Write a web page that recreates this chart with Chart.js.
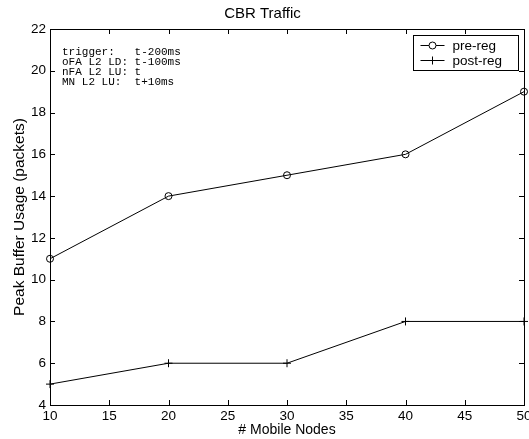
<!DOCTYPE html>
<html>
<head>
<meta charset="utf-8">
<script src="https://cdn.jsdelivr.net/npm/chart.js@4.4.1/dist/chart.umd.min.js"></script>
<style>
  html, body { margin: 0; padding: 0; background: #fff; }
</style>
</head>
<body>
<canvas id="cbr-chart" width="529" height="439"></canvas>
<script>
// data
const nodes = [10, 20, 30, 40, 50];
const preReg = [11, 14, 15, 16, 19];
const postReg = [5, 6, 6, 8, 8];
const seriesNames = ["pre-reg", "post-reg"];
const noteLines = [
  "trigger:   t-200ms",
  "oFA L2 LD: t-100ms",
  "nFA L2 LU: t",
  "MN L2 LU:  t+10ms"
];

const sansFont = "'Liberation Sans', Arial, Helvetica, sans-serif";
const monoFont = "'Liberation Mono', 'DejaVu Sans Mono', monospace";

function toPoints(xs, ys) {
  return xs.map(function(x, i) { return { x: x, y: ys[i] }; });
}

// matlab style frame: full box with ticks pointing inwards
const matlabFrame = {
  id: "matlabFrame",
  afterDraw: function(chart) {
    const ctx = chart.ctx;
    const area = chart.chartArea;
    const xs = chart.scales.x;
    const ys = chart.scales.y;
    const tick = 5;
    ctx.save();
    ctx.strokeStyle = "#000";
    ctx.lineWidth = 1;
    ctx.beginPath();
    xs.ticks.forEach(function(t) {
      const px = Math.round(xs.getPixelForValue(t.value)) + 0.5;
      ctx.moveTo(px, area.bottom);
      ctx.lineTo(px, area.bottom - tick);
      ctx.moveTo(px, area.top);
      ctx.lineTo(px, area.top + tick);
    });
    ys.ticks.forEach(function(t) {
      const py = Math.round(ys.getPixelForValue(t.value)) + 0.5;
      ctx.moveTo(area.left, py);
      ctx.lineTo(area.left + tick, py);
      ctx.moveTo(area.right, py);
      ctx.lineTo(area.right - tick, py);
    });
    ctx.stroke();
    ctx.strokeRect(Math.round(area.left) + 0.5, Math.round(area.top) + 0.5,
      Math.round(area.right - area.left), Math.round(area.bottom - area.top));

    // note text in the upper left corner
    ctx.fillStyle = "#000";
    ctx.font = "11px " + monoFont;
    ctx.textAlign = "left";
    ctx.textBaseline = "middle";
    noteLines.forEach(function(line, i) {
      ctx.fillText(line, area.left + 12, area.top + 23 + i * 10);
    });

    // legend box, top right
    const lx = 413.5, ly = 35.5, lw = 105, lh = 35;
    ctx.fillStyle = "#fff";
    ctx.fillRect(lx, ly, lw, lh);
    ctx.strokeRect(lx, ly, lw, lh);
    ctx.font = "13.5px " + sansFont;
    chart.data.datasets.forEach(function(ds, i) {
      const ry = ly + 10 + i * 15;
      ctx.beginPath();
      ctx.moveTo(lx + 7, ry);
      ctx.lineTo(lx + 31, ry);
      ctx.stroke();
      Chart.helpers.drawPoint(ctx, {
        pointStyle: ds.pointStyle,
        radius: ds.pointRadius,
        borderWidth: 1
      }, lx + 19, ry);
      ctx.fillStyle = "#000";
      ctx.fillText(ds.label, lx + 39, ry + 0.5);
    });
    ctx.restore();
  }
};

const ctx = document.getElementById("cbr-chart").getContext("2d");

const cbrChart = new Chart(ctx, {
  type: "line",
  data: {
    datasets: [{
      label: seriesNames[0],
      data: toPoints(nodes, preReg),
      borderColor: "#000",
      borderWidth: 1,
      pointStyle: "circle",
      pointRadius: 3.5,
      pointBorderColor: "#000",
      pointBackgroundColor: "rgba(0,0,0,0)",
      pointBorderWidth: 1,
      tension: 0,
      clip: 6
    }, {
      label: seriesNames[1],
      data: toPoints(nodes, postReg),
      borderColor: "#000",
      borderWidth: 1,
      pointStyle: "cross",
      pointRadius: 4,
      pointBorderColor: "#000",
      pointBorderWidth: 1,
      tension: 0,
      clip: 6
    }]
  },
  options: {
    responsive: false,
    animation: false,
    devicePixelRatio: 1,
    layout: { padding: { top: 0, right: 4, bottom: 0, left: 0 } },
    plugins: {
      legend: { display: false },
      tooltip: { enabled: false },
      title: {
        display: true,
        text: "CBR Traffic",
        color: "#000",
        font: { family: sansFont, size: 15, weight: "normal" },
        padding: { top: 5, bottom: 6 }
      }
    },
    scales: {
      x: {
        type: "linear",
        min: 10,
        max: 50,
        grid: { display: false, drawTicks: false },
        border: { display: false },
        ticks: {
          stepSize: 5,
          padding: 3,
          color: "#000",
          maxRotation: 0,
          font: { family: sansFont, size: 13.5 }
        },
        title: {
          display: true,
          text: "# Mobile Nodes",
          color: "#000",
          font: { family: sansFont, size: 14 },
          padding: { top: 1, bottom: 0 }
        },
        afterFit: function(scale) {
          scale.height = 34;
          scale.paddingLeft = 0;
          scale.paddingRight = 0;
        }
      },
      y: {
        min: 4,
        max: 22,
        grid: { display: false, drawTicks: false },
        border: { display: false },
        ticks: {
          stepSize: 2,
          padding: 4,
          color: "#000",
          font: { family: sansFont, size: 13.5 }
        },
        title: {
          display: true,
          text: "Peak Buffer Usage (packets)",
          color: "#000",
          font: { family: sansFont, size: 15.5 },
          padding: { top: 10, bottom: 0 }
        },
        afterFit: function(scale) {
          scale.width = 50;
          scale.paddingTop = 0;
          scale.paddingBottom = 0;
        }
      }
    }
  },
  plugins: [matlabFrame]
});
</script>
</body>
</html>
